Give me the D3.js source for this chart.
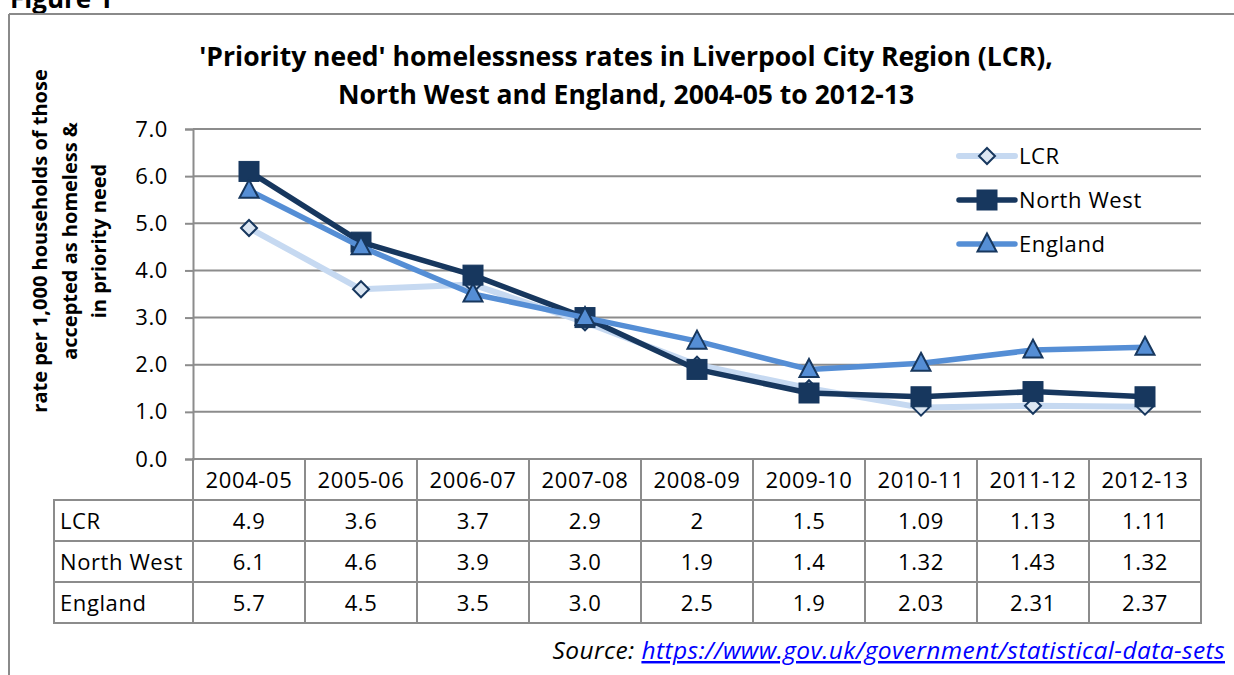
<!DOCTYPE html>
<html>
<head>
<meta charset="utf-8">
<script src="https://cdn.jsdelivr.net/npm/d3@7"></script>
<style>
  html, body { margin: 0; padding: 0; background: #fff; }
  svg { display: block; }
</style>
</head>
<body>
<svg id="chart" width="1234" height="675"></svg>
<script>
// Financial years shown along the category axis
const years = ["2004-05", "2005-06", "2006-07", "2007-08", "2008-09", "2009-10", "2010-11", "2011-12", "2012-13"];

// Rates per 1,000 households accepted as homeless and in priority need
const lcrValues = [4.9, 3.6, 3.7, 2.9, 2, 1.5, 1.09, 1.13, 1.11];
const northWestValues = [6.1, 4.6, 3.9, 3.0, 1.9, 1.4, 1.32, 1.43, 1.32];
const englandValues = [5.7, 4.5, 3.5, 3.0, 2.5, 1.9, 2.03, 2.31, 2.37];

// Table labels as printed (keeps trailing ".0")
const lcrLabels = ["4.9", "3.6", "3.7", "2.9", "2", "1.5", "1.09", "1.13", "1.11"];
const northWestLabels = ["6.1", "4.6", "3.9", "3.0", "1.9", "1.4", "1.32", "1.43", "1.32"];
const englandLabels = ["5.7", "4.5", "3.5", "3.0", "2.5", "1.9", "2.03", "2.31", "2.37"];

const yTicks = [0, 1, 2, 3, 4, 5, 6, 7];

const seriesNames = ["LCR", "North West", "England"];

const FONT = "'Open Sans', Lato, sans-serif";
const BODY_SIZE = 22;
const BODY_SPACING = 0.6;
const GRID = "#8c8c8c";

const svg = d3.select("#chart");

// Page furniture: caption and frame
svg.append("text")
  .attr("x", 10).attr("y", 8)
  .attr("font-family", FONT).attr("font-weight", "bold").attr("font-size", 26)
  .text("Figure 1");

svg.append("line").attr("x1", 9).attr("x2", 1234).attr("y1", 14).attr("y2", 14)
  .attr("stroke", "#8a8a8a").attr("stroke-width", 2);
svg.append("line").attr("x1", 9).attr("x2", 9).attr("y1", 14).attr("y2", 675)
  .attr("stroke", "#8a8a8a").attr("stroke-width", 2);

// Title
const title = svg.append("text")
  .attr("text-anchor", "middle")
  .attr("font-family", FONT).attr("font-weight", "bold").attr("font-size", 26.5)
  .attr("fill", "#000");
title.append("tspan").attr("x", 626).attr("y", 66)
  .text("'Priority need' homelessness rates in Liverpool City Region (LCR),");
title.append("tspan").attr("x", 626).attr("y", 104)
  .text("North West and England, 2004-05 to 2012-13");

// Scales
const plotLeft = 193, plotRight = 1201, plotTop = 129, plotBottom = 459;
const x = d3.scaleBand().domain(years).range([plotLeft, plotRight]).padding(0);
const cx = d => x(d) + x.bandwidth() / 2;
const y = d3.scaleLinear().domain([0, 7]).range([plotBottom, plotTop]);

// Horizontal gridlines
svg.append("g")
  .selectAll("line")
  .data(yTicks)
  .join("line")
  .attr("x1", plotLeft).attr("x2", plotRight)
  .attr("y1", d => y(d)).attr("y2", d => y(d))
  .attr("stroke", GRID).attr("stroke-width", 2);

// Value axis
const yAxis = svg.append("g")
  .attr("transform", `translate(${plotLeft},0)`)
  .call(d3.axisLeft(y).tickValues(yTicks).tickFormat(d3.format(".1f")).tickSize(8).tickPadding(17));
yAxis.select(".domain").attr("stroke", GRID).attr("stroke-width", 2);
yAxis.selectAll(".tick line").attr("stroke", GRID).attr("stroke-width", 2);
yAxis.selectAll(".tick text")
  .attr("font-family", FONT).attr("font-size", BODY_SIZE).attr("letter-spacing", BODY_SPACING)
  .attr("fill", "#000");

// Value axis title
const yTitle = svg.append("text")
  .attr("transform", "translate(0,241) rotate(-90)")
  .attr("text-anchor", "middle")
  .attr("font-family", FONT).attr("font-weight", "bold").attr("font-size", 20);
yTitle.append("tspan").attr("x", 0).attr("y", 47).text("rate per 1,000 households of those");
yTitle.append("tspan").attr("x", 0).attr("y", 77).text("accepted as homeless &");
yTitle.append("tspan").attr("x", 0).attr("y", 106).text("in priority need");

// Series definitions
const series = [
  { name: seriesNames[0], values: lcrValues, labels: lcrLabels, line: "#c6d9f1", width: 6, marker: "diamond", fill: "#dce6f2" },
  { name: seriesNames[1], values: northWestValues, labels: northWestLabels, line: "#17375e", width: 5.5, marker: "square", fill: "#17375e" },
  { name: seriesNames[2], values: englandValues, labels: englandLabels, line: "#558ed5", width: 5.5, marker: "triangle", fill: "#558ed5" }
];

const lineGen = d3.line().x((d, i) => cx(years[i])).y(d => y(d));

function drawMarker(g, type, fill) {
  if (type === "diamond") {
    g.append("path").attr("d", "M0,-8 L8,0 L0,8 L-8,0 Z")
      .attr("fill", fill).attr("stroke", "#17375e").attr("stroke-width", 2);
  } else if (type === "square") {
    g.append("rect").attr("x", -10).attr("y", -10).attr("width", 20).attr("height", 20)
      .attr("fill", fill).attr("stroke", "#17375e").attr("stroke-width", 1);
  } else {
    g.append("path").attr("d", "M0,-10.5 L9.5,7.5 L-9.5,7.5 Z")
      .attr("fill", fill).attr("stroke", "#17375e").attr("stroke-width", 2)
      .attr("stroke-linejoin", "miter");
  }
}

// Lines and markers, drawn in series order
series.forEach(s => {
  const g = svg.append("g");
  g.append("path")
    .datum(s.values)
    .attr("d", lineGen)
    .attr("fill", "none")
    .attr("stroke", s.line)
    .attr("stroke-width", s.width)
    .attr("stroke-linejoin", "round");
  g.selectAll("g.pt")
    .data(s.values)
    .join("g")
    .attr("class", "pt")
    .attr("transform", (d, i) => `translate(${cx(years[i])},${y(d)})`)
    .each(function () { drawMarker(d3.select(this), s.marker, s.fill); });
});

// Legend
const legendY = [156, 200, 244];
series.forEach((s, i) => {
  const g = svg.append("g").attr("transform", `translate(0,${legendY[i]})`);
  g.append("line").attr("x1", 959).attr("x2", 1015).attr("y1", 0).attr("y2", 0)
    .attr("stroke", s.line).attr("stroke-width", s.width).attr("stroke-linecap", "round");
  const m = g.append("g").attr("transform", "translate(987,0)");
  drawMarker(m, s.marker, s.fill);
  g.append("text").attr("x", 1019).attr("y", 8)
    .attr("font-family", FONT).attr("font-size", BODY_SIZE).attr("letter-spacing", BODY_SPACING)
    .text(s.name);
});

// Data table beneath the plot
const tableLeft = 54;
const rowH = 41;
const headerTop = plotBottom;
const tbl = svg.append("g")
  .attr("font-family", FONT).attr("font-size", BODY_SIZE).attr("letter-spacing", BODY_SPACING);
const tStroke = { stroke: "#8c8c8c", width: 2 };

// Header row (category labels)
years.forEach(yr => {
  tbl.append("rect")
    .attr("x", x(yr)).attr("y", headerTop).attr("width", x.bandwidth()).attr("height", rowH)
    .attr("fill", "none").attr("stroke", tStroke.stroke).attr("stroke-width", tStroke.width);
  tbl.append("text")
    .attr("x", cx(yr)).attr("y", headerTop + rowH / 2 + 8)
    .attr("text-anchor", "middle")
    .text(yr);
});

// Body rows
series.forEach((s, r) => {
  const top = headerTop + rowH * (r + 1);
  tbl.append("rect")
    .attr("x", tableLeft).attr("y", top).attr("width", plotLeft - tableLeft).attr("height", rowH)
    .attr("fill", "none").attr("stroke", tStroke.stroke).attr("stroke-width", tStroke.width);
  tbl.append("text")
    .attr("x", tableLeft + 6).attr("y", top + rowH / 2 + 8)
    .text(s.name);
  years.forEach((yr, i) => {
    tbl.append("rect")
      .attr("x", x(yr)).attr("y", top).attr("width", x.bandwidth()).attr("height", rowH)
      .attr("fill", "none").attr("stroke", tStroke.stroke).attr("stroke-width", tStroke.width);
    tbl.append("text")
      .attr("x", cx(yr)).attr("y", top + rowH / 2 + 8)
      .attr("text-anchor", "middle")
      .text(s.labels[i]);
  });
});

// Source line
const src = svg.append("text")
  .attr("x", 1225).attr("y", 659)
  .attr("text-anchor", "end")
  .attr("font-family", FONT).attr("font-style", "italic").attr("font-size", 24.5)
  .attr("letter-spacing", 0.4);
src.append("tspan").attr("fill", "#000").text("Source: ");
src.append("tspan").attr("fill", "#0000ff").attr("text-decoration", "underline")
  .text("https://www.gov.uk/government/statistical-data-sets");
</script>
</body>
</html>
